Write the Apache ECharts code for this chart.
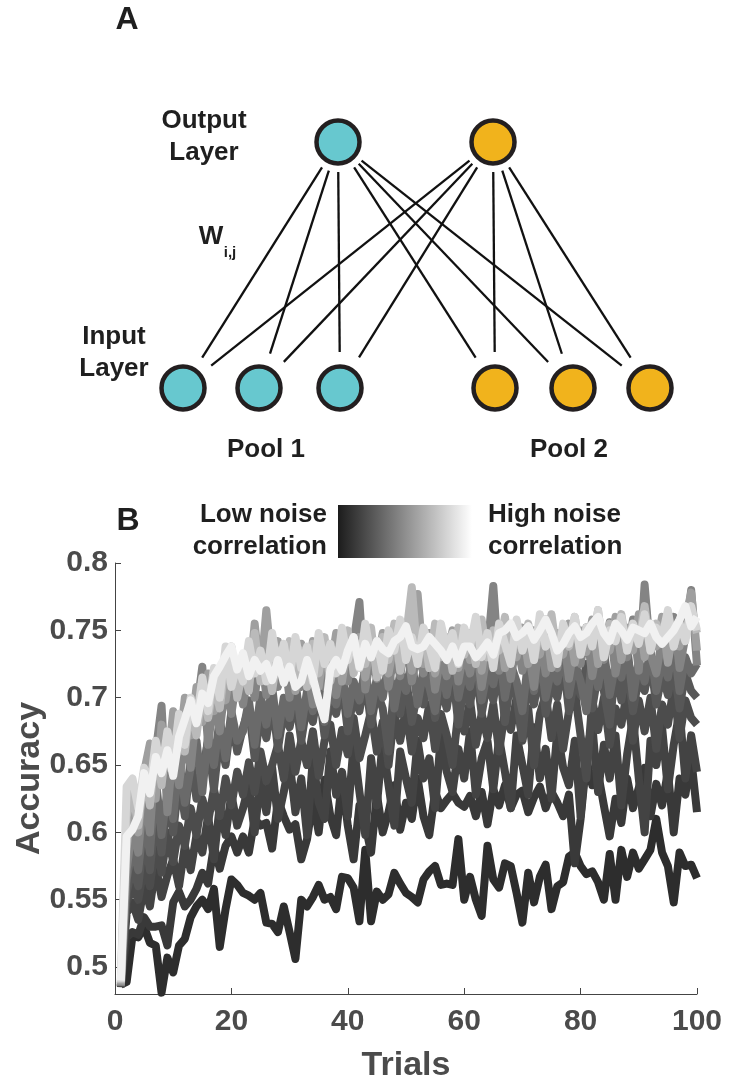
<!DOCTYPE html>
<html>
<head>
<meta charset="utf-8">
<script src="https://cdn.jsdelivr.net/npm/echarts@6.0.0/dist/echarts.min.js"></script>
<style>
  html, body { margin: 0; padding: 0; background: #fff; }
  #main { width: 737px; height: 1076px; }
</style>
</head>
<body>
<div id="main"></div>
<script>
// panel A: network layout (pixel space of the top panel)
const outputX = [338, 493];
const outputY = 142;
const inputX = [183, 259, 340, 495, 573, 650];
const inputY = 388;
const inputPool = [1, 1, 1, 2, 2, 2];

// panel B: accuracy per trial, one array per noise-correlation level (low -> high)
const yTicks = [0.5, 0.55, 0.6, 0.65, 0.7, 0.75, 0.8];

const acc1 = [0.487,0.489,0.523,0.522,0.530,0.518,0.516,0.481,0.507,0.496,
  0.516,0.521,0.537,0.545,0.550,0.543,0.558,0.515,0.543,0.565,
  0.561,0.555,0.553,0.550,0.555,0.533,0.532,0.526,0.545,0.526,
  0.506,0.550,0.545,0.552,0.561,0.550,0.552,0.543,0.567,0.566,
  0.559,0.534,0.587,0.534,0.556,0.550,0.554,0.570,0.562,0.555,
  0.552,0.548,0.565,0.571,0.575,0.561,0.562,0.561,0.595,0.550,
  0.567,0.550,0.538,0.590,0.565,0.559,0.577,0.575,0.555,0.533,
  0.570,0.548,0.567,0.576,0.543,0.560,0.563,0.582,0.585,0.575,
  0.569,0.571,0.563,0.550,0.584,0.550,0.587,0.567,0.585,0.573,
  0.580,0.587,0.610,0.585,0.575,0.548,0.585,0.575,0.576,0.566];

const acc2 = [0.488,0.522,0.526,0.524,0.537,0.530,0.530,0.531,0.516,0.548,
  0.556,0.545,0.550,0.558,0.570,0.562,0.590,0.573,0.590,0.597,
  0.585,0.597,0.585,0.610,0.605,0.607,0.588,0.624,0.612,0.602,
  0.606,0.580,0.595,0.624,0.600,0.639,0.612,0.598,0.639,0.605,
  0.580,0.620,0.606,0.585,0.628,0.600,0.615,0.635,0.602,0.622,
  0.610,0.640,0.612,0.598,0.630,0.618,0.624,0.629,0.622,0.619,
  0.627,0.612,0.630,0.606,0.632,0.620,0.635,0.618,0.628,0.631,
  0.615,0.626,0.634,0.618,0.630,0.622,0.612,0.628,0.577,0.610,
  0.654,0.635,0.644,0.620,0.597,0.625,0.607,0.640,0.618,0.633,
  0.648,0.612,0.636,0.620,0.645,0.600,0.640,0.628,0.655,0.615];

const acc3 = [0.486,0.540,0.548,0.535,0.560,0.545,0.575,0.552,0.568,0.580,
  0.560,0.590,0.572,0.598,0.585,0.612,0.580,0.620,0.598,0.628,
  0.605,0.618,0.635,0.600,0.640,0.615,0.648,0.610,0.630,0.652,
  0.615,0.640,0.598,0.655,0.622,0.610,0.660,0.628,0.645,0.612,
  0.665,0.630,0.598,0.655,0.620,0.668,0.635,0.605,0.660,0.640,
  0.622,0.668,0.640,0.655,0.618,0.672,0.645,0.630,0.662,0.640,
  0.675,0.628,0.655,0.668,0.632,0.670,0.645,0.618,0.672,0.650,
  0.628,0.678,0.640,0.662,0.625,0.675,0.648,0.635,0.668,0.612,
  0.660,0.680,0.630,0.665,0.640,0.672,0.620,0.658,0.685,0.640,
  0.600,0.668,0.650,0.678,0.632,0.665,0.690,0.640,0.672,0.645];

const acc4 = [0.485,0.548,0.560,0.550,0.575,0.560,0.592,0.570,0.600,0.578,
  0.605,0.590,0.618,0.598,0.625,0.608,0.632,0.612,0.640,0.620,
  0.645,0.628,0.652,0.630,0.660,0.638,0.650,0.665,0.640,0.672,
  0.645,0.668,0.650,0.675,0.642,0.668,0.680,0.650,0.676,0.658,
  0.685,0.655,0.672,0.690,0.660,0.682,0.650,0.688,0.668,0.692,
  0.660,0.685,0.670,0.695,0.662,0.688,0.672,0.650,0.690,0.675,
  0.698,0.665,0.688,0.670,0.695,0.660,0.690,0.676,0.700,0.668,
  0.692,0.650,0.688,0.702,0.670,0.695,0.662,0.690,0.705,0.672,
  0.640,0.698,0.676,0.700,0.665,0.692,0.680,0.705,0.668,0.698,
  0.675,0.700,0.662,0.695,0.680,0.708,0.670,0.698,0.685,0.680];

const acc5 = [0.486,0.555,0.575,0.560,0.598,0.572,0.615,0.585,0.628,0.600,
  0.640,0.612,0.655,0.625,0.645,0.668,0.632,0.672,0.650,0.685,
  0.660,0.678,0.692,0.655,0.688,0.670,0.698,0.662,0.690,0.678,
  0.700,0.668,0.695,0.682,0.708,0.672,0.698,0.688,0.712,0.675,
  0.702,0.690,0.715,0.680,0.705,0.692,0.660,0.710,0.688,0.715,
  0.682,0.705,0.695,0.718,0.685,0.708,0.692,0.720,0.680,0.710,
  0.695,0.722,0.688,0.712,0.698,0.725,0.682,0.715,0.700,0.670,
  0.718,0.695,0.722,0.688,0.712,0.700,0.728,0.690,0.715,0.702,
  0.725,0.692,0.718,0.705,0.680,0.722,0.698,0.725,0.690,0.715,
  0.705,0.728,0.695,0.718,0.702,0.725,0.692,0.718,0.705,0.700];

const acc6 = [0.486,0.565,0.590,0.572,0.612,0.585,0.640,0.598,0.630,0.610,
  0.655,0.622,0.648,0.668,0.630,0.672,0.650,0.685,0.655,0.690,
  0.668,0.675,0.698,0.665,0.702,0.680,0.708,0.672,0.700,0.685,
  0.712,0.678,0.705,0.690,0.715,0.682,0.708,0.695,0.720,0.688,
  0.712,0.698,0.722,0.690,0.715,0.700,0.725,0.692,0.718,0.705,
  0.728,0.695,0.720,0.708,0.690,0.725,0.702,0.730,0.700,0.722,
  0.708,0.732,0.698,0.720,0.710,0.735,0.700,0.725,0.712,0.690,
  0.728,0.705,0.732,0.700,0.722,0.712,0.735,0.702,0.726,0.712,
  0.690,0.730,0.708,0.735,0.702,0.725,0.715,0.738,0.700,0.728,
  0.712,0.735,0.705,0.728,0.715,0.740,0.705,0.730,0.718,0.725];

const acc7 = [0.486,0.572,0.605,0.585,0.632,0.600,0.660,0.694,0.615,0.662,
  0.635,0.672,0.648,0.690,0.723,0.665,0.700,0.675,0.712,0.688,
  0.718,0.695,0.722,0.700,0.735,0.702,0.725,0.708,0.732,0.700,
  0.740,0.708,0.722,0.695,0.732,0.708,0.738,0.702,0.728,0.712,
  0.742,0.771,0.706,0.732,0.714,0.740,0.708,0.732,0.716,0.745,
  0.712,0.735,0.718,0.742,0.706,0.732,0.716,0.748,0.712,0.736,
  0.718,0.742,0.708,0.735,0.783,0.720,0.738,0.714,0.742,0.720,
  0.736,0.708,0.746,0.718,0.738,0.722,0.748,0.714,0.740,0.725,
  0.752,0.716,0.740,0.728,0.756,0.718,0.744,0.730,0.758,0.720,
  0.784,0.732,0.718,0.744,0.728,0.760,0.722,0.745,0.780,0.724];

const acc8 = [0.487,0.588,0.622,0.600,0.645,0.666,0.625,0.680,0.648,0.690,
  0.660,0.700,0.672,0.708,0.682,0.718,0.690,0.722,0.698,0.728,
  0.705,0.732,0.710,0.755,0.715,0.765,0.720,0.742,0.712,0.735,
  0.705,0.740,0.715,0.742,0.708,0.738,0.720,0.748,0.712,0.740,
  0.722,0.745,0.715,0.742,0.725,0.748,0.718,0.742,0.728,0.752,
  0.720,0.777,0.725,0.748,0.718,0.745,0.730,0.750,0.722,0.748,
  0.728,0.752,0.720,0.748,0.732,0.755,0.722,0.748,0.730,0.752,
  0.725,0.750,0.732,0.758,0.722,0.748,0.732,0.755,0.726,0.750,
  0.734,0.758,0.725,0.750,0.735,0.760,0.728,0.752,0.735,0.762,
  0.730,0.755,0.738,0.760,0.726,0.752,0.738,0.758,0.778,0.735];

const acc9 = [0.488,0.612,0.630,0.605,0.645,0.620,0.662,0.635,0.672,0.648,
  0.685,0.660,0.695,0.672,0.705,0.685,0.712,0.692,0.728,0.738,
  0.700,0.722,0.705,0.748,0.712,0.730,0.705,0.735,0.715,0.742,
  0.712,0.735,0.708,0.740,0.718,0.745,0.712,0.735,0.722,0.750,
  0.718,0.740,0.725,0.752,0.715,0.745,0.728,0.755,0.720,0.745,
  0.782,0.728,0.750,0.722,0.755,0.730,0.745,0.720,0.752,0.732,
  0.748,0.725,0.758,0.730,0.750,0.735,0.760,0.728,0.748,0.735,
  0.755,0.728,0.752,0.738,0.762,0.730,0.750,0.738,0.760,0.732,
  0.752,0.740,0.765,0.730,0.755,0.742,0.762,0.735,0.750,0.742,
  0.768,0.735,0.755,0.742,0.762,0.738,0.755,0.745,0.765,0.748];

const acc10 = [0.489,0.634,0.640,0.618,0.648,0.632,0.668,0.645,0.675,0.652,
  0.688,0.665,0.700,0.682,0.715,0.690,0.722,0.700,0.738,0.708,
  0.725,0.712,0.742,0.718,0.735,0.712,0.748,0.722,0.740,0.715,
  0.745,0.722,0.738,0.712,0.748,0.725,0.740,0.718,0.752,0.728,
  0.745,0.722,0.755,0.730,0.742,0.720,0.750,0.735,0.758,0.728,
  0.745,0.725,0.752,0.738,0.722,0.755,0.735,0.748,0.725,0.752,
  0.738,0.760,0.730,0.748,0.722,0.755,0.740,0.725,0.758,0.735,
  0.750,0.728,0.762,0.738,0.745,0.725,0.755,0.740,0.760,0.732,
  0.752,0.738,0.765,0.730,0.750,0.742,0.760,0.735,0.755,0.740,
  0.762,0.735,0.752,0.745,0.765,0.738,0.755,0.742,0.768,0.750];

const acc11 = [0.490,0.597,0.602,0.612,0.644,0.629,0.656,0.644,0.661,0.642,
  0.671,0.684,0.698,0.681,0.703,0.696,0.716,0.723,0.731,0.738,
  0.721,0.733,0.716,0.728,0.720,0.725,0.713,0.728,0.711,0.723,
  0.708,0.712,0.728,0.715,0.698,0.684,0.721,0.728,0.720,0.735,
  0.745,0.723,0.740,0.730,0.742,0.736,0.733,0.742,0.745,0.753,
  0.738,0.736,0.738,0.745,0.740,0.735,0.728,0.738,0.726,0.738,
  0.738,0.730,0.735,0.741,0.732,0.748,0.750,0.755,0.745,0.748,
  0.753,0.743,0.750,0.758,0.748,0.735,0.740,0.748,0.753,0.745,
  0.748,0.755,0.760,0.748,0.742,0.755,0.750,0.743,0.752,0.750,
  0.748,0.755,0.745,0.740,0.745,0.750,0.758,0.768,0.753,0.760];

const seriesValues = [acc1, acc2, acc3, acc4, acc5, acc6, acc7, acc8, acc9, acc10, acc11];
const lineColors = ['#2d2d2d', '#393939', '#434343', '#4c4c4c', '#575757', '#6a6a6a',
                    '#848484', '#9f9f9f', '#bababa', '#d6d6d6', '#f1f1f1'];

const FONT = "'Liberation Sans', Arial, Helvetica, sans-serif";
const poolColors = { 1: '#67c8cf', 2: '#f1b31c' };

const chart = echarts.init(document.getElementById('main'));

// connections, trimmed so they stop short of the circles
const startGap = 30, endGap = 36;
const edges = [];
outputX.forEach(ox => {
  inputX.forEach(ix => {
    const dx = ix - ox, dy = inputY - outputY;
    const len = Math.hypot(dx, dy);
    const ux = dx / len, uy = dy / len;
    edges.push({ coords: [[ox + ux * startGap, outputY + uy * startGap],
                          [ix - ux * endGap, inputY - uy * endGap]] });
  });
});

const nodes = outputX.map((x, i) => ({ value: [x, outputY], itemStyle: { color: poolColors[i + 1] } }))
  .concat(inputX.map((x, i) => ({ value: [x, inputY], itemStyle: { color: poolColors[inputPool[i]] } })));

const lineSeries = seriesValues.map((vals, k) => ({
  type: 'line',
  xAxisIndex: 0,
  yAxisIndex: 0,
  data: vals.map((v, i) => [i + 1, v]),
  showSymbol: false,
  silent: true,
  lineStyle: { color: lineColors[k], width: 8, join: 'round', cap: 'butt' },
  z: 2 + k
}));

function txt(text, x, y, size, align) {
  return {
    type: 'text', x: x, y: y,
    style: { text: text, fill: '#1f1f1f', font: 'bold ' + size + 'px ' + FONT,
             align: align || 'center', verticalAlign: 'middle', lineHeight: size * 1.25 }
  };
}

chart.setOption({
  animation: false,
  backgroundColor: '#ffffff',
  grid: [
    { left: 115, top: 563, width: 582, height: 431, outerBoundsMode: 'none', containLabel: false },
    { left: 0, top: 0, width: 737, height: 480, outerBoundsMode: 'none', containLabel: false }
  ],
  xAxis: [
    {
      gridIndex: 0, type: 'value', min: 0, max: 100, interval: 20,
      name: 'Trials', nameLocation: 'middle', nameGap: 55,
      nameTextStyle: { fontFamily: FONT, fontSize: 34, fontWeight: 'bold', color: '#4b4b4b' },
      axisLine: { lineStyle: { color: '#444', width: 1 } },
      axisTick: { inside: true, length: 6, lineStyle: { color: '#444' } },
      axisLabel: { margin: 13, fontFamily: FONT, fontSize: 30, fontWeight: 'bold', color: '#4b4b4b' },
      splitLine: { show: false }
    },
    { gridIndex: 1, type: 'value', min: 0, max: 737, show: false }
  ],
  yAxis: [
    {
      gridIndex: 0, type: 'value', min: 0.48, max: 0.8,
      name: 'Accuracy', nameLocation: 'middle', nameGap: 68, nameRotate: 90, nameMoveOverlap: false,
      nameTextStyle: { fontFamily: FONT, fontSize: 34, fontWeight: 'bold', color: '#4b4b4b' },
      axisLine: { show: true, lineStyle: { color: '#444', width: 1 } },
      axisTick: { show: true, inside: true, length: 6, lineStyle: { color: '#444' }, customValues: yTicks },
      axisLabel: { margin: 7, fontFamily: FONT, fontSize: 30, fontWeight: 'bold', color: '#4b4b4b',
                   customValues: yTicks, formatter: v => String(v) },
      splitLine: { show: false }
    },
    { gridIndex: 1, type: 'value', min: 0, max: 480, inverse: true, show: false }
  ],
  series: [
    {
      type: 'lines', coordinateSystem: 'cartesian2d', xAxisIndex: 1, yAxisIndex: 1,
      silent: true, data: edges,
      lineStyle: { color: '#111', width: 2.3, opacity: 1 }
    },
    {
      type: 'scatter', xAxisIndex: 1, yAxisIndex: 1, silent: true,
      symbol: 'circle', symbolSize: 43, data: nodes,
      itemStyle: { borderColor: '#231f20', borderWidth: 4.5, opacity: 1 }
    }
  ].concat(lineSeries),
  graphic: [
    txt('A', 127, 20, 32),
    txt('Output\nLayer', 204, 137, 26),
    txt('W', 211, 237, 26),
    txt('i,j', 230, 253, 15),
    txt('Input\nLayer', 114, 353, 26),
    txt('Pool 1', 266, 450, 26),
    txt('Pool 2', 569, 450, 26),
    txt('B', 128, 521, 32),
    txt('Low noise\ncorrelation', 327, 531, 26, 'right'),
    txt('High noise\ncorrelation', 488, 531, 26, 'left'),
    {
      type: 'rect', shape: { x: 338, y: 505, width: 134, height: 53 },
      style: { fill: new echarts.graphic.LinearGradient(0, 0, 1, 0, [
        { offset: 0, color: '#1c1c1c' }, { offset: 0.5, color: '#8e8e8e' }, { offset: 1, color: '#ffffff' }
      ]) }
    }
  ]
});
</script>
</body>
</html>
